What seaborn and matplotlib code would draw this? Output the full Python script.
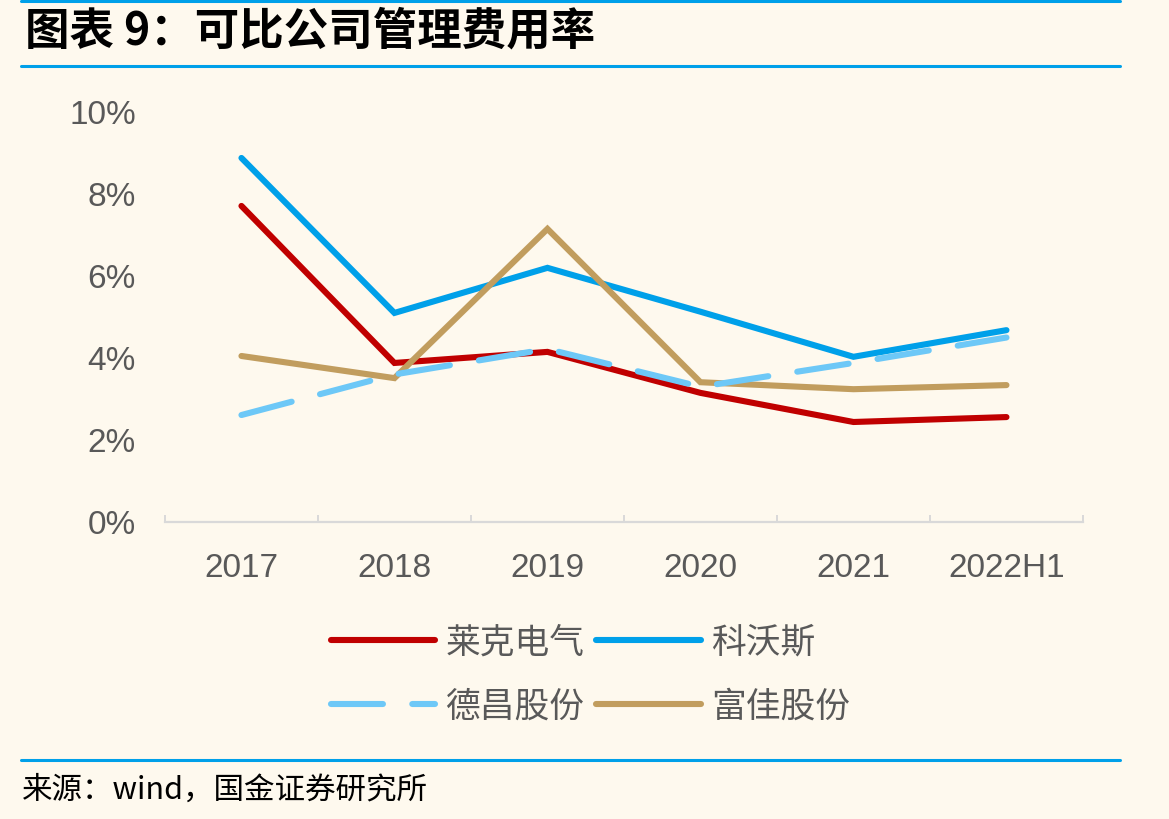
import numpy as np
import matplotlib
matplotlib.use("Agg")
import matplotlib.pyplot as plt
from matplotlib.lines import Line2D
import pandas as pd
import seaborn as sns

# data (percent)
years = ["2017", "2018", "2019", "2020", "2021", "2022H1"]
laike = [7.71, 3.88, 4.15, 3.15, 2.44, 2.56]
kewosi = [8.88, 5.10, 6.20, 5.13, 4.03, 4.68]
dechang = [2.61, 3.60, 4.22, 3.30, 3.88, 4.50]
fujia = [4.05, 3.51, 7.15, 3.41, 3.24, 3.34]
names = ["莱克电气", "科沃斯", "德昌股份", "富佳股份"]
yticks = [0, 2, 4, 6, 8, 10]

colors = {"莱克电气": "#C00000", "科沃斯": "#00A0E9",
          "德昌股份": "#6DC8F7", "富佳股份": "#C19D5E"}
bg = "#FEF9EE"
line_blue = "#00A0E9"

df = pd.DataFrame({"year": years * 4,
                   "value": laike + kewosi + dechang + fujia,
                   "name": np.repeat(names, len(years))})
df["x"] = np.tile(np.arange(len(years)), 4)

sns.set_theme(style="white")
plt.rcParams["font.family"] = ["Noto Sans CJK SC", "DejaVu Sans"]

fig = plt.figure(figsize=(11.69, 8.19), dpi=100, facecolor=bg)
ax = fig.add_axes([0.1411, 0.3626, 0.9264 - 0.1411, 0.8632 - 0.3626])
ax.set_facecolor(bg)

lw = 4.4
dash = (8.5, 4.8)
for n in names:
    sub = df[df.name == n]
    sns.lineplot(ax=ax, data=sub, x="x", y="value", color=colors[n],
                 linewidth=lw, legend=False, sort=False,
                 solid_capstyle="round", solid_joinstyle="miter",
                 dash_capstyle="round",
                 dashes=False, zorder=3 if n != "德昌股份" else 4)
# dashed series
for l in ax.get_lines():
    if matplotlib.colors.to_hex(l.get_color()).lower() == colors["德昌股份"].lower():
        l.set_dashes(dash)
        l.set_dash_capstyle("round")

ax.set_xlim(-0.5, len(years) - 0.5)
ax.set_ylim(0, 10)
ax.set_yticks(yticks)
ax.set_yticklabels([f"{v}%" for v in yticks])
ax.set_xticks(range(len(years)))
ax.set_xticklabels(years)
ax.set_xticks(np.arange(-0.5, len(years)), minor=True)
ax.set_xlabel("")
ax.set_ylabel("")

for s in ["top", "right", "left"]:
    ax.spines[s].set_visible(False)
ax.spines["bottom"].set_color("#D9D9D9")
ax.spines["bottom"].set_linewidth(1.6)

ax.tick_params(axis="x", which="major", length=0, pad=22,
               labelsize=24, labelcolor="#595959")
ax.tick_params(axis="x", which="minor", direction="in", length=5,
               width=1.4, color="#D9D9D9", bottom=True)
ax.tick_params(axis="y", length=0, pad=21, labelsize=24,
               labelcolor="#595959")
for t in ax.get_xticklabels() + ax.get_yticklabels():
    t.set_family(["Liberation Sans", "DejaVu Sans"])

# legend
handles = []
for n in names:
    h = Line2D([], [], color=colors[n], linewidth=lw,
               solid_capstyle="round", dash_capstyle="round")
    if n == "德昌股份":
        h.set_dashes(dash)
    handles.append(h)
order = [0, 2, 1, 3]
leg = fig.legend([handles[i] for i in order], [names[i] for i in order],
                 ncol=2, loc="center", bbox_to_anchor=(0.505, 0.176),
                 frameon=False, fontsize=25, handlelength=3.0,
                 handletextpad=0.3, columnspacing=0.35, labelspacing=0.85)
for t in leg.get_texts():
    t.set_color("#595959")

# title and source with blue rules
fig.text(0.021, 0.962, "图表 9：可比公司管理费用率", fontsize=32,
         fontweight="bold", style="italic", color="black", va="center")
for yy in [0.999, 0.920, 0.072]:
    fig.add_artist(Line2D([0.018, 0.958], [yy, yy], color=line_blue,
                          linewidth=2.2, transform=fig.transFigure))
fig.text(0.019, 0.035, "来源：wind，国金证券研究所", fontsize=22,
         color="black", va="center")

fig.savefig("out.png", dpi=100, facecolor=bg)
